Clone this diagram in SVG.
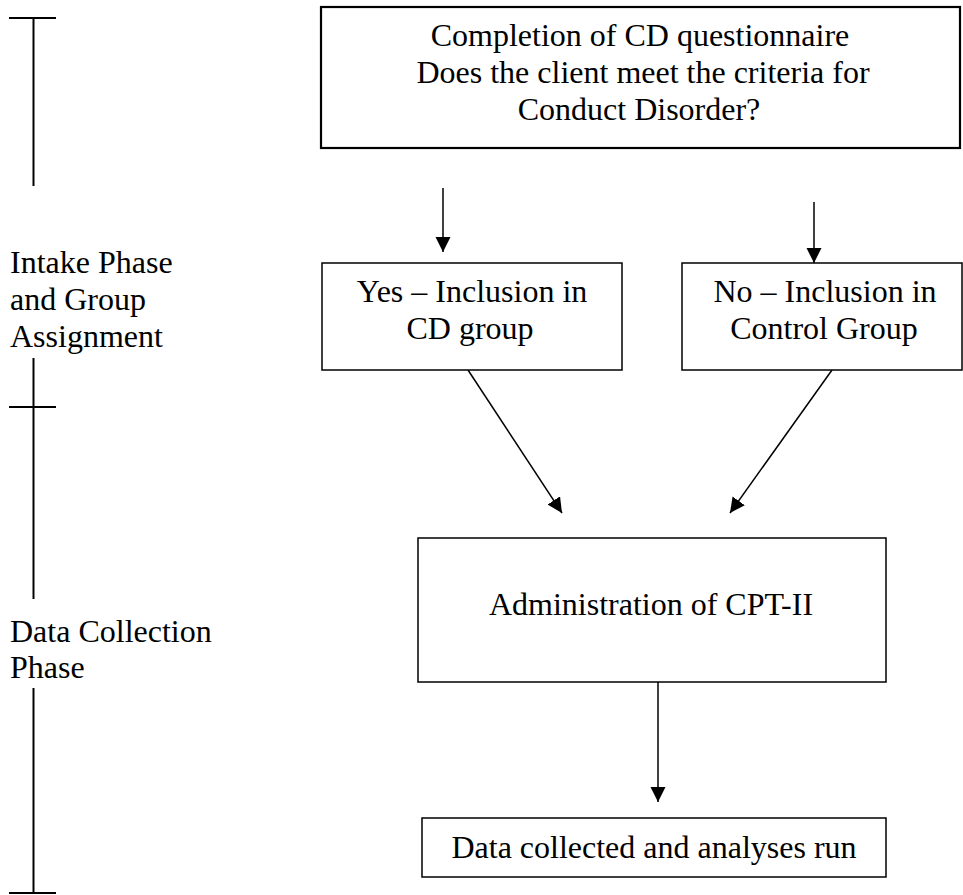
<svg xmlns="http://www.w3.org/2000/svg" width="963" height="895" viewBox="0 0 963 895">
<style>
  text { font-family: "Liberation Serif", "Times New Roman", serif; font-size: 32px; fill: #000; }
  .c { text-anchor: middle; }
  .box { fill: #fff; stroke: #000; stroke-width: 1.5; }
  .box2 { fill: #fff; stroke: #000; stroke-width: 2.2; }
  .tl { stroke: #000; stroke-width: 2; fill: none; }
  .arr { stroke: #000; stroke-width: 1.5; fill: none; marker-end: url(#ah); }
</style>
<defs>
  <marker id="ah" markerUnits="userSpaceOnUse" markerWidth="16" markerHeight="16" refX="15" refY="7.5" orient="auto" viewBox="0 0 16 16">
    <path d="M0,0 L15,7.5 L0,15 z" fill="#000"/>
  </marker>
</defs>
<rect width="963" height="895" fill="#fff"/>

<g id="timeline">
  <line class="tl" x1="9" y1="18" x2="56" y2="18"/>
  <line class="tl" x1="33.5" y1="18" x2="33.5" y2="186"/>
  <line class="tl" x1="33.5" y1="358" x2="33.5" y2="599"/>
  <line class="tl" x1="9" y1="407" x2="56" y2="407"/>
  <line class="tl" x1="33.5" y1="688" x2="33.5" y2="893"/>
  <line class="tl" x1="9" y1="893" x2="56" y2="893"/>
  <text x="10" y="273">Intake Phase</text>
  <text x="10" y="310">and Group</text>
  <text x="10" y="347">Assignment</text>
  <text x="10" y="642">Data Collection</text>
  <text x="10" y="678">Phase</text>
</g>

<g id="connectors">
  <line class="arr" x1="443" y1="188" x2="443" y2="252"/>
  <line class="arr" x1="814" y1="202" x2="814" y2="263"/>
  <line class="arr" x1="468" y1="370" x2="562" y2="513"/>
  <line class="arr" x1="832" y1="370" x2="730" y2="513"/>
  <line class="arr" x1="658" y1="682" x2="658" y2="802"/>
</g>

<g id="node-questionnaire">
  <rect class="box2" x="321" y="7" width="639" height="141"/>
  <text class="c" x="640" y="46">Completion of CD questionnaire</text>
  <text class="c" x="643" y="83">Does the client meet the criteria for</text>
  <text class="c" x="639" y="120">Conduct Disorder?</text>
</g>

<g id="node-yes">
  <rect class="box" x="322" y="263" width="300" height="107"/>
  <text class="c" x="472" y="302">Yes – Inclusion in</text>
  <text class="c" x="470" y="339">CD group</text>
</g>

<g id="node-no">
  <rect class="box" x="682" y="263" width="280" height="107"/>
  <text class="c" x="825" y="302">No – Inclusion in</text>
  <text class="c" x="824" y="339">Control Group</text>
</g>

<g id="node-cpt">
  <rect class="box" x="418" y="538" width="468" height="144"/>
  <text class="c" x="651" y="615">Administration of CPT-II</text>
</g>

<g id="node-data">
  <rect class="box" x="422" y="818" width="464" height="59"/>
  <text class="c" x="654" y="858">Data collected and analyses run</text>
</g>
</svg>
